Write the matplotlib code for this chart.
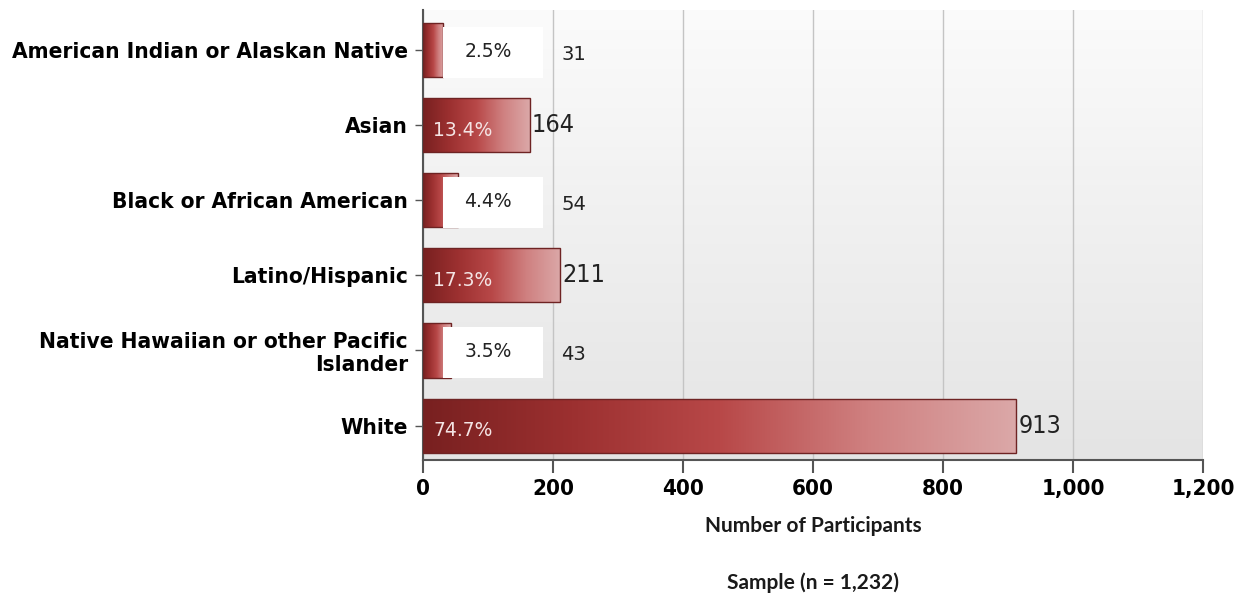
import numpy as np
import matplotlib.pyplot as plt
from matplotlib import font_manager
from matplotlib.colors import LinearSegmentedColormap
from matplotlib.ticker import FuncFormatter

categories = ["American Indian or Alaskan Native", "Asian", "Black or African American",
              "Latino/Hispanic", "Native Hawaiian or other Pacific\nIslander", "White"]
counts = [31, 164, 54, 211, 43, 913]
percents = ["2.5%", "13.4%", "4.4%", "17.3%", "3.5%", "74.7%"]
x_ticks = [0, 200, 400, 600, 800, 1000, 1200]

# pick a condensed font if one is there
fonts = font_manager.fontManager.ttflist
names = {f.name for f in fonts}
condensed = [f for f in fonts if f.name == "DejaVu Sans" and f.stretch in ("condensed", 300, "semi-condensed")]
if "Liberation Sans Narrow" in names:
    narrow = dict(family="Liberation Sans Narrow")
elif condensed:
    narrow = dict(family="DejaVu Sans", stretch="condensed")
else:
    narrow = dict(family="Liberation Sans")

fig = plt.figure(figsize=(12.45, 6.01), dpi=100)
ax = fig.add_axes([0.3398, 0.2346, 0.6265, 0.7488])

# gray background gradient of the plot area
bg = np.linspace(0, 1, 256).reshape(-1, 1)
bg_cmap = LinearSegmentedColormap.from_list("bg", ["#fbfbfb", "#e4e4e4"])
ax.imshow(bg, extent=[0, 1, 0, 1], transform=ax.transAxes, aspect="auto",
          cmap=bg_cmap, zorder=0)

ypos = np.arange(len(categories))[::-1]
bar_h = 0.72
bars = ax.barh(ypos, counts, height=bar_h, color="none", edgecolor="#6e2323",
               linewidth=1.0, zorder=3)

bar_cmap = LinearSegmentedColormap.from_list(
    "bar", ["#782020", "#9c3030", "#b84848", "#cf8080", "#dba8a8"])
grad = np.linspace(0, 1, 256).reshape(1, -1)
for b in bars:
    x0, y0 = b.get_x(), b.get_y()
    im = ax.imshow(grad, extent=[x0, x0 + b.get_width(), y0, y0 + b.get_height()],
                   aspect="auto", cmap=bar_cmap, zorder=2)
    im.set_clip_path(b)

# labels
box_w = 154
for y, c, p in zip(ypos, counts, percents):
    if c < 100:
        left = min(c, 31)
        ax.barh(y - 0.03, box_w, left=left, height=0.68, color="white", zorder=4)
        ax.text(left + box_w / 2 - 8, y - 0.02, p, ha="center", va="center",
                fontsize=13.5, color="#222222", family="DejaVu Sans", zorder=5)
        ax.text(left + box_w + 28, y - 0.06, str(c), ha="left", va="center",
                fontsize=14, color="#222222", family="DejaVu Sans", zorder=5)
    else:
        ax.text(16, y - 0.07, p, ha="left", va="center", fontsize=13.5,
                color="#f4e4e4", family="DejaVu Sans", zorder=5)
        ax.text(c + 3, y, str(c), ha="left", va="center", fontsize=18,
                color="#222222", zorder=5, **narrow)

ax.set_xlim(0, 1200)
ax.set_ylim(-0.46, len(categories) - 0.46)
ax.set_xticks(x_ticks)
ax.xaxis.set_major_formatter(FuncFormatter(lambda v, _: f"{int(v):,}"))
ax.set_yticks(ypos)
ax.set_yticklabels(categories, fontweight="bold", fontsize=16.2,
                   linespacing=1.15, **narrow)
for lab in ax.get_xticklabels():
    lab.set_fontproperties(font_manager.FontProperties(weight="bold", size=16, **narrow))

ax.grid(axis="x", color="#c4c4c4", linewidth=1.0, zorder=1)
ax.set_axisbelow(True)
for s in ["top", "right"]:
    ax.spines[s].set_visible(False)
ax.spines["left"].set_color("#555555")
ax.spines["bottom"].set_color("#555555")
ax.spines["left"].set_linewidth(1.5)
ax.spines["bottom"].set_linewidth(1.5)
ax.tick_params(axis="y", length=6, width=1, color="#555555", pad=5)
ax.tick_params(axis="x", length=9, width=1.5, color="#555555", pad=5)

ax.set_xlabel("Number of Participants", family="Lato", fontweight="bold",
              fontsize=15, color="#1a1a1a", labelpad=12)
fig.text(0.653, 0.03, "Sample (n = 1,232)", ha="center", va="center",
         family="Lato", fontweight="bold", fontsize=15, color="#1a1a1a")

fig.savefig("out.png", dpi=100)
